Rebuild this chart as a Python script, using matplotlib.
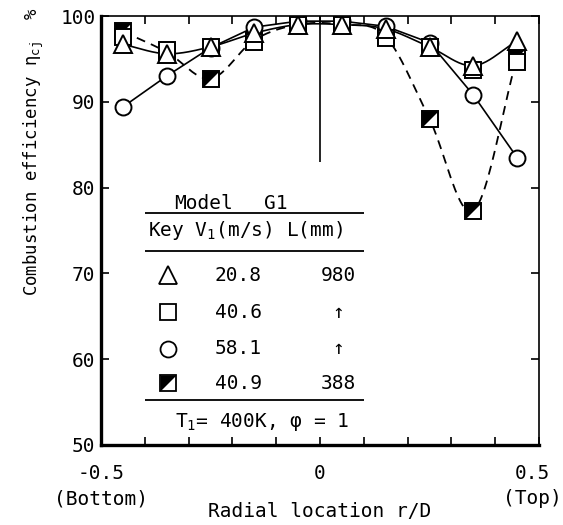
import numpy as np
import matplotlib
matplotlib.use('Agg')
import matplotlib.pyplot as plt
from matplotlib.ticker import MultipleLocator
from matplotlib.transforms import ScaledTranslation

plt.rcParams['font.family'] = ['DejaVu Sans Mono']
plt.rcParams['mathtext.fontset'] = 'custom'
plt.rcParams['mathtext.rm'] = 'DejaVu Sans Mono'
plt.rcParams['mathtext.it'] = 'DejaVu Sans Mono'
plt.rcParams['mathtext.default'] = 'rm'

# radial stations r/D
r_d = [-0.45, -0.35, -0.25, -0.15, -0.05, 0.05, 0.15, 0.25, 0.35, 0.45]

# combustion efficiency (%) per run
eff_208 = [96.7, 95.6, 96.4, 98.0, 99.0, 99.0, 98.5, 96.4, 94.2, 97.1]   # V1=20.8, L=980
eff_406 = [97.5, 96.0, 96.4, 97.0, 99.0, 99.0, 97.4, 96.4, 93.7, 94.6]   # V1=40.6, L=980
eff_581 = [89.4, 93.0, 96.3, 98.7, 99.4, 99.4, 98.8, 96.9, 90.8, 83.5]   # V1=58.1, L=980
eff_409 = [98.2, 95.8, 92.7, 97.2, 99.0, 99.0, 97.6, 88.0, 77.3, 95.2]   # V1=40.9, L=388

key_velocity = ['20.8', '40.6', '58.1', '40.9']
key_length = ['980', '↑', '↑', '388']

x_ticks = [-0.5, 0, 0.5]
x_ticklabels = ['-0.5\n(Bottom)', '0', '0.5\n(Top)']
y_ticks = [50, 60, 70, 80, 90, 100]


def smooth(x, y, n=24):
    # Catmull-Rom curve through the measured points
    x = np.asarray(x, float)
    y = np.asarray(y, float)
    px = np.r_[2 * x[0] - x[1], x, 2 * x[-1] - x[-2]]
    py = np.r_[2 * y[0] - y[1], y, 2 * y[-1] - y[-2]]
    t = np.linspace(0, 1, n, endpoint=False)
    xs, ys = [], []
    for i in range(1, len(px) - 2):
        for p, out in ((px, xs), (py, ys)):
            p0, p1, p2, p3 = p[i - 1], p[i], p[i + 1], p[i + 2]
            out.append(0.5 * (2 * p1 + (-p0 + p2) * t
                              + (2 * p0 - 5 * p1 + 4 * p2 - p3) * t ** 2
                              + (-p0 + 3 * p1 - 3 * p2 + p3) * t ** 3))
    xs.append([x[-1]])
    ys.append([y[-1]])
    return np.concatenate(xs), np.concatenate(ys)


half_mark = [(-1, -1), (-1, 1), (1, 1), (-1, -1)]
mk = dict(color='k', markerfacecolor='white', markeredgecolor='k', markeredgewidth=1.4)

fig = plt.figure(figsize=(5.63, 5.25), dpi=100)
ax = fig.add_axes([101 / 563, 1 - 445 / 525, 438 / 563, 429 / 525])

# dashed run (L = 388)
sx, sy = smooth(r_d, eff_409)
ax.plot(sx, sy, 'k--', lw=1.3, dashes=(5, 3.5), zorder=2)
ax.plot(r_d, eff_409, 's', ms=11.5, linestyle='none', zorder=3, **mk)
ax.plot(r_d, eff_409, marker=half_mark, ms=11.5, linestyle='none', color='k',
        markeredgewidth=0, zorder=3.1)

# V1 = 58.1
ax.plot(r_d, eff_581, 'k-', lw=1.2, zorder=2)
ax.plot(r_d, eff_581, 'o', ms=11.5, linestyle='none', zorder=4, **mk)

# V1 = 40.6
ax.plot(r_d, eff_406, 's', ms=11.5, linestyle='none', zorder=5, **mk)

# V1 = 20.8
sx, sy = smooth(r_d, eff_208)
ax.plot(sx, sy, 'k-', lw=1.2, zorder=2)
ax.plot(r_d, eff_208, '^', ms=13, linestyle='none', zorder=6, **mk)

# centre line
ax.vlines(0, 83, 100, color='k', lw=1.2, zorder=1)

ax.set_xlim(-0.5, 0.5)
ax.set_ylim(50, 100)
ax.set_xticks(x_ticks)
ax.set_xticklabels(x_ticklabels, linespacing=1.4)
ax.xaxis.set_minor_locator(MultipleLocator(0.1))
ax.set_yticks(y_ticks)
ax.tick_params(which='both', direction='in', top=True, right=True,
               length=6, width=1.2, labelsize=14)
ax.tick_params(axis='x', pad=14)
ax.tick_params(axis='y', pad=4)
# keep the right-hand label inside the figure
last = ax.get_xticklabels()[-1]
last.set_transform(last.get_transform() + ScaledTranslation(-5 / 72, 0, fig.dpi_scale_trans))
for side in ('left', 'bottom'):
    ax.spines[side].set_linewidth(2.4)
for side in ('top', 'right'):
    ax.spines[side].set_linewidth(1.2)

ax.set_ylabel('Combustion efficiency η$_{cj}$  %', fontsize=12.5)
ax.yaxis.set_label_coords(-0.125, 0.683)
ax.text(0.5, -0.156, 'Radial location r/D', transform=ax.transAxes,
        ha='center', va='center', fontsize=14)

# key table
ax.text(-0.267, 78.2, 'Model', ha='center', va='center', fontsize=14)
ax.text(-0.100, 78.2, 'G1', ha='center', va='center', fontsize=14)
ax.text(-0.393, 75.0, 'Key V$_1$(m/s) L(mm)', ha='left', va='center', fontsize=14)
ax.hlines([77.0, 72.6, 55.25], -0.40, 0.10, color='k', lw=1.3)

row_y = [69.8, 65.5, 61.2, 57.2]
key_marker = ['^', 's', 'o', 's']
key_size = [13, 11.5, 11.5, 11.5]
for yy, m, s, v, l in zip(row_y, key_marker, key_size, key_velocity, key_length):
    ax.plot([-0.347], [yy], m, ms=s, color='k', markerfacecolor='white',
            markeredgewidth=1.3)
    ax.text(-0.187, yy, v, ha='center', va='center', fontsize=14)
    ax.text(0.041, yy, l, ha='center', va='center', fontsize=14)
ax.plot([-0.347], [row_y[3]], marker=half_mark, ms=11.5, color='k', markeredgewidth=0)

ax.text(-0.331, 52.7, 'T$_1$= 400K, φ = 1', ha='left', va='center', fontsize=14)

fig.savefig('out.png', dpi=100)
